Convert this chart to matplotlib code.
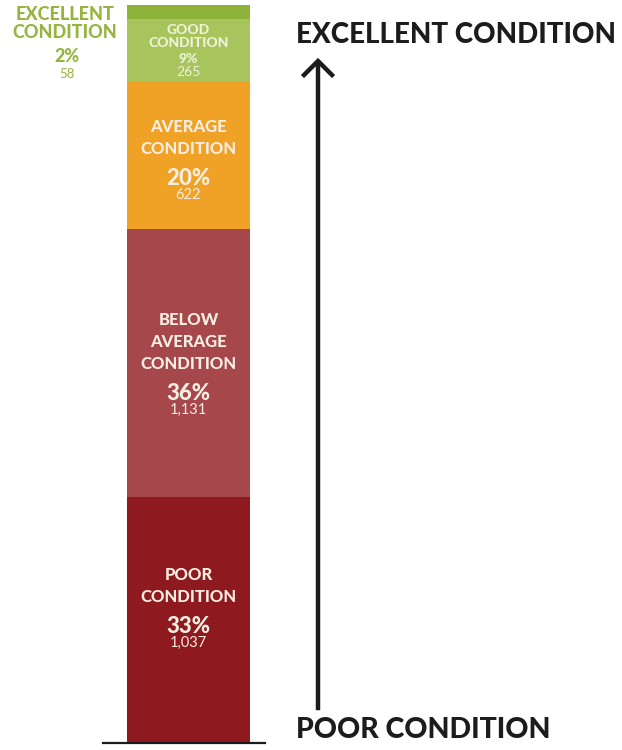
import matplotlib.pyplot as plt
from matplotlib.lines import Line2D

# condition counts, bottom (poor) to top (excellent)
categories = ["POOR\nCONDITION", "BELOW\nAVERAGE\nCONDITION", "AVERAGE\nCONDITION",
              "GOOD\nCONDITION", "EXCELLENT\nCONDITION"]
counts = [1037, 1131, 622, 265, 58]
percents = ["33%", "36%", "20%", "9%", "2%"]
count_labels = ["1,037", "1,131", "622", "265", "58"]
colors = ["#8e1a1f", "#a5474b", "#efa225", "#a8c45c", "#8db33a"]

W, H = 622, 750
FONT = "Lato"
HEAVY = "black"
TEXT_LIGHT = "#f7eee2"
GREEN = "#96b53e"
DARK = "#1c1c1c"


def px(x, y):
    """pixel position (from top-left) -> figure fraction"""
    return x / W, 1 - y / H


fig = plt.figure(figsize=(W / 100, H / 100), dpi=100)
total = sum(counts)
bar_bottom_px, bar_top_px = 743, 5
ax = fig.add_axes([0, 1 - bar_bottom_px / H, 1, (bar_bottom_px - bar_top_px) / H])
ax.set_xlim(0, W)
ax.set_ylim(0, total)
ax.axis("off")

bar_x, bar_w = 188.5, 123
bottom = 0
centers = []
for value, color in zip(counts, colors):
    ax.bar(bar_x, value, width=bar_w, bottom=bottom, color=color, linewidth=0)
    centers.append(bottom + value / 2)
    bottom += value

# baseline under the bar
ax.plot([103, 265], [0, 0], color=DARK, lw=1.6, clip_on=False)


def seg_text(s, center, off_px, size, weight, color):
    ax.annotate(s, (bar_x, center), xytext=(0, -off_px * 0.72),
                textcoords="offset points", ha="center", va="center",
                fontsize=size, fontweight=weight, family=FONT, color=color)


# labels inside the three larger segments
nudges = [-11, 2, 6]   # shift of the text block, px
for i in range(3):
    name_lines = categories[i].split("\n")
    block = 22 * (len(name_lines) - 1) + 29 + 17
    top = nudges[i] - block / 2
    offsets = [top + 22 * k for k in range(len(name_lines))]
    for line, off in zip(name_lines, offsets):
        seg_text(line, centers[i], off, 12, HEAVY, TEXT_LIGHT)
    off_pct = offsets[-1] + 29
    seg_text(percents[i], centers[i], off_pct, 16, HEAVY, TEXT_LIGHT)
    seg_text(count_labels[i], centers[i], off_pct + 17, 10.5, "normal", TEXT_LIGHT)

# good condition: small text inside its thin segment
good_lines = categories[3].split("\n") + [percents[3], count_labels[3]]
good_off = [-20, -7, 9, 22]
good_wt = [HEAVY, HEAVY, HEAVY, "normal"]
for line, off, wt in zip(good_lines, good_off, good_wt):
    seg_text(line, centers[3], off, 10, wt, "#eef3d8")

# excellent condition: label to the left of the bar
ex_lines = categories[4].split("\n")
for line, y in zip(ex_lines, [14, 33]):
    fig.text(*px(65, y), line, ha="center", va="center", fontsize=13,
             fontweight=HEAVY, family=FONT, color=GREEN)
fig.text(*px(67, 56), percents[4], ha="center", va="center", fontsize=13,
         fontweight=HEAVY, family=FONT, color=GREEN)
fig.text(*px(67, 74), count_labels[4], ha="center", va="center", fontsize=9.5,
         family=FONT, color=GREEN)

# scale arrow and its end labels
fig.add_artist(Line2D([318 / W, 318 / W], [1 - 708 / H, 1 - 63 / H],
                      transform=fig.transFigure, color=DARK, lw=3.2))
fig.add_artist(Line2D([304 / W, 318 / W, 332 / W],
                      [1 - 75 / H, 1 - 61 / H, 1 - 75 / H],
                      transform=fig.transFigure, color=DARK,
                      lw=3.2, solid_joinstyle="miter"))
fig.text(*px(296, 35), "EXCELLENT CONDITION", ha="left", va="center",
         fontsize=20, fontweight=HEAVY, family=FONT, color=DARK)
fig.text(*px(296, 730), "POOR CONDITION", ha="left", va="center",
         fontsize=20.5, fontweight=HEAVY, family=FONT, color=DARK)

fig.savefig("out.png", dpi=100)
